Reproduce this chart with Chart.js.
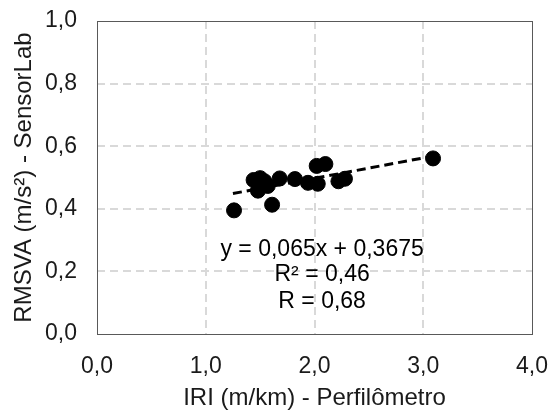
<!DOCTYPE html>
<html>
<head>
<meta charset="utf-8">
<script src="https://cdn.jsdelivr.net/npm/chart.js@4"></script>
<style>
	html, body { margin: 0; padding: 0; background: #fff; }
	#wrap { width: 550px; height: 410px; position: relative; }
</style>
</head>
<body>
<div id="wrap"><canvas id="graph_rmsva"></canvas></div>
<script>
// measured points (IRI m/km, RMSVA m/s²)
var iriValues = [1.26, 1.61, 1.44, 1.50, 1.48, 1.57, 1.54, 1.68, 1.82, 1.94, 2.02, 2.10, 2.03, 2.22, 2.28, 3.09];
var rmsvaValues = [0.395, 0.413, 0.492, 0.498, 0.458, 0.473, 0.488, 0.497, 0.495, 0.483, 0.537, 0.543, 0.480, 0.488, 0.496, 0.561];

// linear trend as printed on the chart
var trendSlope = 0.065;
var trendIntercept = 0.3675;
var trendRange = [1.25, 3.09];
var trendLabels = ["y = 0,065x + 0,3675", "R\u00b2 = 0,46", "R = 0,68"];
var trendLabelX = 2.07;
var trendLabelY = [0.27, 0.19, 0.104];

var xTicks = [0, 1, 2, 3, 4];
var yTicks = [0, 0.2, 0.4, 0.6, 0.8, 1.0];

var textColor = '#1a1a1a';
var fontName = "'Liberation Sans', Arial, sans-serif";

function fmt(v){
	return v.toFixed(1).replace('.', ',');
}

var points = iriValues.map(function(x, i){ return {x: x, y: rmsvaValues[i]}; });
var trendPoints = trendRange.map(function(x){ return {x: x, y: trendSlope * x + trendIntercept}; });

var plotFrame = {
	id: 'plotFrame',
	beforeDatasetsDraw: function(chart){
		var a = chart.chartArea, ctx = chart.ctx;
		ctx.save();
		ctx.strokeStyle = '#595959';
		ctx.lineWidth = 1;
		ctx.strokeRect(Math.round(a.left) + 0.5, Math.round(a.top) + 0.5, Math.round(a.right - a.left), Math.round(a.bottom - a.top));
		ctx.restore();
	},
	afterDatasetsDraw: function(chart){
		var ctx = chart.ctx;
		var xs = chart.scales.x, ys = chart.scales.y;
		ctx.save();
		ctx.fillStyle = '#000';
		ctx.font = "23px " + fontName;
		ctx.textAlign = 'center';
		ctx.textBaseline = 'middle';
		trendLabels.forEach(function(t, i){
			ctx.fillText(t, xs.getPixelForValue(trendLabelX), ys.getPixelForValue(trendLabelY[i]));
		});
		ctx.restore();
	}
};

var gridStyle = {
	color: function(ctx){
		//edges are covered by the frame
		if(ctx.index === 0 || ctx.index === ctx.chart.scales[ctx.scale.id].ticks.length - 1){
			return 'rgba(0,0,0,0)';
		}
		return '#d9d9d9';
	},
	lineWidth: 2,
	drawTicks: false
};

var graph_config = {
	type: 'scatter',
	data: {
		datasets: [{
			label: 'RMSVA',
			data: points,
			backgroundColor: '#000',
			borderColor: '#000',
			pointRadius: 7.5,
			pointHoverRadius: 7.5,
			order: 1
		},{
			type: 'line',
			label: 'Linear',
			data: trendPoints,
			borderColor: '#000',
			borderWidth: 3,
			borderDash: [9, 5],
			pointRadius: 0,
			fill: false,
			order: 2
		}]
	},
	options: {
		animation: false,
		responsive: true,
		maintainAspectRatio: false,
		devicePixelRatio: 1,
		layout: {
			padding: {top: 21, right: 18, left: 0, bottom: 0}
		},
		scales: {
			x: {
				type: 'linear',
				min: 0,
				max: 4,
				afterBuildTicks: function(scale){
					scale.ticks = xTicks.map(function(v){ return {value: v}; });
				},
				afterFit: function(scale){
					scale.height = 76;
					scale.paddingLeft = 0;
					scale.paddingRight = 0;
				},
				ticks: {
					callback: function(v){ return fmt(v); },
					font: {size: 23, family: fontName},
					color: textColor,
					padding: 19,
					maxRotation: 0
				},
				grid: gridStyle,
				border: {display: false, dash: [8, 5]},
				title: {
					display: true,
					text: 'IRI (m/km) - Perfil\u00f4metro',
					font: {size: 24, family: fontName, lineHeight: 1},
					color: textColor,
					padding: {top: 0, bottom: 0}
				}
			},
			y: {
				type: 'linear',
				min: 0,
				max: 1,
				afterBuildTicks: function(scale){
					scale.ticks = yTicks.map(function(v){ return {value: v}; });
				},
				afterFit: function(scale){
					scale.width = 97;
					scale.paddingTop = 0;
					scale.paddingBottom = 0;
				},
				ticks: {
					callback: function(v){ return fmt(v); },
					font: {size: 23, family: fontName},
					color: textColor,
					padding: 20
				},
				grid: gridStyle,
				border: {display: false, dash: [8, 5]},
				title: {
					display: true,
					text: 'RMSVA (m/s\u00b2) - SensorLab',
					font: {size: 24, family: fontName},
					color: textColor,
					padding: {top: 10, bottom: 0}
				}
			}
		},
		plugins: {
			legend: {display: false},
			tooltip: {enabled: false}
		}
	},
	plugins: [plotFrame]
};

document.addEventListener("DOMContentLoaded", function(){
	new Chart(document.getElementById("graph_rmsva").getContext('2d'), graph_config);
});
</script>
</body>
</html>
